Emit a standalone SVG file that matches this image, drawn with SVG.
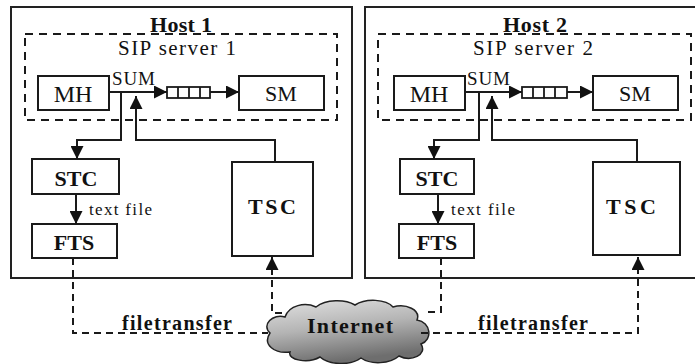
<svg xmlns="http://www.w3.org/2000/svg" width="695" height="364" viewBox="0 0 695 364" font-family="'Liberation Serif', 'Times New Roman', Times, serif">
  <style>
    .box { fill: #fff; stroke: #1a1a1a; stroke-width: 2; }
    .host { fill: none; stroke: #222; stroke-width: 2; }
    .sip { fill: none; stroke: #1a1a1a; stroke-width: 2; stroke-dasharray: 8 6; }
    .ln { fill: none; stroke: #1a1a1a; stroke-width: 2; }
    .dash { fill: none; stroke: #1a1a1a; stroke-width: 2; stroke-dasharray: 7 5; }
    .q { fill: #fff; stroke: #1a1a1a; stroke-width: 1.8; }
    text { font-family: 'Liberation Serif', 'Times New Roman', Times, serif; fill: #111; }
    .title { font-size: 22px; font-weight: bold; text-anchor: middle; }
    .sub { font-size: 21px; text-anchor: middle; }
    .lbl { font-size: 22px; text-anchor: middle; }
    .mh { font-size: 24px; text-anchor: middle; }
    .bold { font-size: 22px; font-weight: bold; text-anchor: middle; }
    .sum { font-size: 19px; }
    .small { font-size: 17px; }
    .xfer { font-size: 20px; font-weight: bold; }
  </style>
  <defs>
    <marker id="arr" viewBox="0 0 12 12" refX="12" refY="6" markerWidth="13" markerHeight="13" markerUnits="userSpaceOnUse" orient="auto">
      <path d="M0,0 L12,6 L0,12 z" fill="#111"/>
    </marker>
    <linearGradient id="cloudFill" x1="0" y1="0" x2="0.3" y2="1">
      <stop offset="0" stop-color="#e2e2e2"/>
      <stop offset="0.5" stop-color="#b4b4b4"/>
      <stop offset="1" stop-color="#6e6e6e"/>
    </linearGradient>
  </defs>

  <rect width="695" height="364" fill="#fff"/>

  <!-- Host 1 -->
  <g id="host1">
    <rect class="host" x="11" y="7" width="341" height="271"/>
    <text class="title" x="181" y="32" textLength="62">Host 1</text>
  </g>
  <g id="sipserver1">
    <rect class="sip" x="25" y="34" width="312" height="86"/>
    <text class="sub" x="177" y="55" textLength="118">SIP server 1</text>
  </g>
  <g id="mh1">
    <rect class="box" x="38" y="76" width="71" height="34"/>
    <text class="mh" x="73" y="102">MH</text>
  </g>
  <g id="sum1">
    <text class="sum" x="112" y="85" textLength="43">SUM</text>
  </g>
  <g id="queue1">
    <rect class="q" x="167" y="87" width="43" height="11"/>
    <path class="q" d="M178 87 V98 M189 87 V98 M200 87 V98"/>
  </g>
  <g id="sm1">
    <rect class="box" x="239" y="76" width="85" height="34"/>
    <text class="lbl" x="281" y="101">SM</text>
  </g>
  <g id="stc1">
    <rect class="box" x="32" y="159" width="87" height="35"/>
    <text class="bold" x="76" y="186">STC</text>
  </g>
  <g id="fts1">
    <rect class="box" x="32" y="224" width="85" height="34"/>
    <text class="bold" x="74" y="250">FTS</text>
  </g>
  <g id="tsc1">
    <rect class="box" x="232" y="162" width="81" height="94"/>
    <text class="bold" x="272" y="214" textLength="48">TSC</text>
  </g>

  <!-- Host 2 -->
  <g id="host2">
    <rect class="host" x="365" y="7" width="340" height="271"/>
    <text class="title" x="535" y="32" textLength="64">Host 2</text>
  </g>
  <g id="sipserver2">
    <rect class="sip" x="378" y="34" width="313" height="86"/>
    <text class="sub" x="533" y="55" textLength="120">SIP server 2</text>
  </g>
  <g id="mh2">
    <rect class="box" x="394" y="76" width="71" height="34"/>
    <text class="mh" x="429" y="102">MH</text>
  </g>
  <g id="sum2">
    <text class="sum" x="467" y="85" textLength="43">SUM</text>
  </g>
  <g id="queue2">
    <rect class="q" x="522" y="87" width="45" height="11"/>
    <path class="q" d="M533 87 V98 M544 87 V98 M555 87 V98"/>
  </g>
  <g id="sm2">
    <rect class="box" x="593" y="76" width="85" height="34"/>
    <text class="lbl" x="635" y="101">SM</text>
  </g>
  <g id="stc2">
    <rect class="box" x="400" y="159" width="74" height="35"/>
    <text class="bold" x="437" y="186">STC</text>
  </g>
  <g id="fts2">
    <rect class="box" x="399" y="224" width="75" height="34"/>
    <text class="bold" x="437" y="250">FTS</text>
  </g>
  <g id="tsc2">
    <rect class="box" x="593" y="162" width="87" height="93"/>
    <text class="bold" x="631" y="214" textLength="50">TSC</text>
  </g>

  <!-- Internet cloud -->
  <g id="internet">
    <path d="M270 333 C261 325 273 313 285 317 C289 305 305 302 316 307 C326 299 345 299 355 305 C366 298 386 299 393 307 C406 303 421 310 417 320 C431 322 433 340 421 344 C428 355 411 362 399 356 C390 364 371 365 361 358 C350 366 329 365 320 357 C308 364 287 360 290 352 C275 354 262 345 270 333 Z" fill="url(#cloudFill)" stroke="#222" stroke-width="1.5"/>
    <text x="350" y="333" font-size="22" font-weight="bold" text-anchor="middle" textLength="86">Internet</text>
  </g>

  <!-- Connectors -->
  <g id="connectors">
    <!-- Host 1 -->
    <path class="ln" d="M109 92 H167" marker-end="url(#arr)"/>
    <path class="ln" d="M210 92 H239" marker-end="url(#arr)"/>
    <path class="ln" d="M121 92 V140 H77 V159" marker-end="url(#arr)"/>
    <path class="ln" d="M275 162 V140 H136 V96" marker-end="url(#arr)"/>
    <path class="ln" d="M76 194 V224" marker-end="url(#arr)"/>
    <text class="small" x="89" y="215" textLength="63">text file</text>
    <path class="dash" d="M73 258 V333 H268"/>
    <path class="dash" d="M282 313 H272 V257" marker-end="url(#arr)"/>
    <text class="xfer" x="122" y="330" textLength="110">filetransfer</text>

    <!-- Host 2 -->
    <path class="ln" d="M465 92 H522" marker-end="url(#arr)"/>
    <path class="ln" d="M567 92 H593" marker-end="url(#arr)"/>
    <path class="ln" d="M479 92 V140 H434 V159" marker-end="url(#arr)"/>
    <path class="ln" d="M637 162 V140 H492 V96" marker-end="url(#arr)"/>
    <path class="ln" d="M438 194 V224" marker-end="url(#arr)"/>
    <text class="small" x="451" y="215" textLength="64">text file</text>
    <path class="dash" d="M441 258 V312 H428"/>
    <path class="dash" d="M421 333 H638 V257" marker-end="url(#arr)"/>
    <text class="xfer" x="478" y="330" textLength="110">filetransfer</text>
  </g>
</svg>
